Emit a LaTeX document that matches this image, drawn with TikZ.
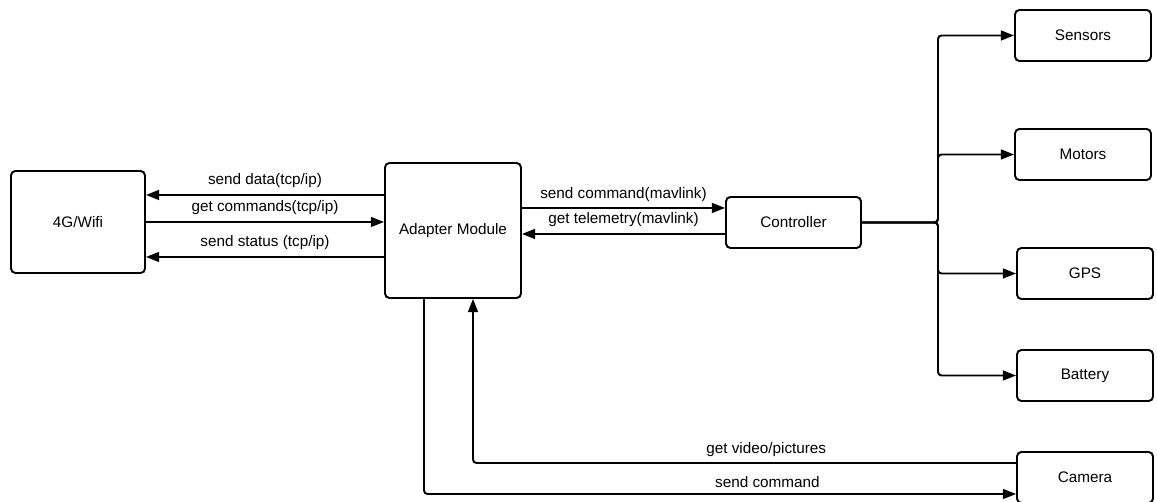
\documentclass[tikz,border=0pt]{standalone}
\usepackage{fontspec}
\setmainfont{Liberation Sans}
\usepackage{tikz}
\usetikzlibrary{arrows.meta,positioning,calc}

\begin{document}
\begin{tikzpicture}[x=0.02cm, y=0.02cm,
    box/.style={draw, line width=1.1pt, rounded corners=2.5pt, minimum width=2.72cm, minimum height=1.02cm, font=\fontsize{8.7}{10}\selectfont, inner sep=0pt},
    arr/.style={line width=1.1pt, -{Triangle[length=7.5pt,width=5.6pt]}, rounded corners=2pt},
    lbl/.style={font=\fontsize{8.7}{10}\selectfont}]
  \useasboundingbox (0,0) rectangle (1157,-502);
  % boxes
  \node[box, minimum width=2.68cm, minimum height=2.04cm] (wifi) at (78,-222) {4G/Wifi};
  \node[box, minimum height=2.7cm] (adapter) at (453,-230.5) {Adapter Module};
  \node[box, minimum width=2.7cm] (ctrl) at (793.5,-222.5) {Controller};
  \node[box] (sensors) at (1083,-35.5) {Sensors};
  \node[box] (motors) at (1083,-154.5) {Motors};
  \node[box] (gps) at (1085,-273.5) {GPS};
  \node[box] (battery) at (1085,-375.5) {Battery};
  \node[box] (camera) at (1085,-477.5) {Camera};
  % tcp/ip links
  \draw[arr] (adapter.west |- 0,-195) -- node[lbl,above] {send data(tcp/ip)} (wifi.east |- 0,-195);
  \draw[arr] (wifi.east |- 0,-222) -- node[lbl,above] {get commands(tcp/ip)} (adapter.west |- 0,-222);
  \draw[arr] (adapter.west |- 0,-257) -- node[lbl,above] {send status (tcp/ip)} (wifi.east |- 0,-257);
  % mavlink links
  \draw[arr] (adapter.east |- 0,-208) -- node[lbl,above] {send command(mavlink)} (ctrl.west |- 0,-208);
  \draw[arr] (ctrl.west |- 0,-234) -- node[lbl,above] {get telemetry(mavlink)} (adapter.east |- 0,-234);
  % controller fan-out
  \coordinate (fork) at (938,-222.5);
  \foreach \t in {sensors,motors,gps,battery} {
    \draw[arr] (ctrl.east) -- (fork) |- (\t.west);
  }
  % camera links
  \draw[arr] (camera.west |- 0,-463) -| node[lbl,above,pos=0.23] {get video/pictures} (adapter.south -| 473,0);
  \draw[arr] (adapter.south -| 424,0) |- node[lbl,above,pos=0.79] {send command} (camera.west |- 0,-494);
\end{tikzpicture}
\end{document}
